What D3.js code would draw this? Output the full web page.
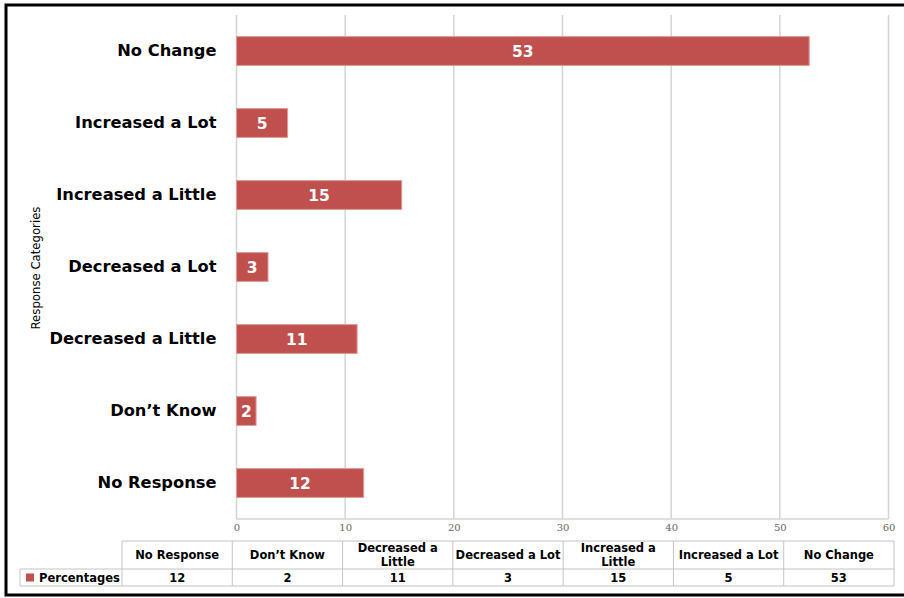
<!DOCTYPE html>
<html><head><meta charset="utf-8">
<script src="https://cdn.jsdelivr.net/npm/d3@7"></script>
<style>
html,body{margin:0;padding:0;background:#fff;}
svg{display:block;}
</style></head>
<body>
<svg id="chart" width="904" height="598"></svg>
<script>
// Data (bottom-to-top order, same as data table order)
const categories = ["No Response", "Don\u2019t Know", "Decreased a Little", "Decreased a Lot", "Increased a Little", "Increased a Lot", "No Change"];
const percentages = [11.7, 1.8, 11.1, 2.9, 15.2, 4.7, 52.7];
const labels = [12, 2, 11, 3, 15, 5, 53];
const xTicks = [0, 10, 20, 30, 40, 50, 60];
const seriesName = "Percentages";
const axisTitle = "Response Categories";

const svg = d3.select("#chart");
const red = "#C0504D";
const grid = "#d4d4d4";
const boldFont = "'DejaVu Sans', Verdana, sans-serif";

// outer border
svg.append("rect").attr("x", 6).attr("y", 5).attr("width", 910).attr("height", 590)
  .attr("fill", "none").attr("stroke", "#000").attr("stroke-width", 3);

const plot = {left: 236.5, right: 888.5, top: 15, bottom: 519};
const x = d3.scaleLinear().domain([0, 60]).range([plot.left, plot.right]);
const y = d3.scaleBand().domain(categories.slice().reverse()).range([plot.top, plot.bottom]).paddingInner(0.6).paddingOuter(0.3);

// gridlines
svg.append("g").selectAll("line").data(xTicks).join("line")
  .attr("x1", d => x(d)).attr("x2", d => x(d))
  .attr("y1", plot.top).attr("y2", plot.bottom)
  .attr("stroke", grid).attr("stroke-width", 1.5);
svg.append("line").attr("x1", plot.left).attr("x2", plot.right)
  .attr("y1", plot.bottom).attr("y2", plot.bottom).attr("stroke", grid).attr("stroke-width", 1.5);

// axis tick labels
const xAxis = d3.axisBottom(x).tickValues(xTicks).tickSize(0).tickPadding(5);
const gx = svg.append("g").attr("transform", `translate(0,${plot.bottom})`).call(xAxis);
gx.select(".domain").remove();
gx.selectAll("text").attr("fill", "#666").attr("font-size", 10)
  .attr("font-family", "'DejaVu Serif', Georgia, serif");

// bars
const bars = svg.append("g");
bars.selectAll("rect").data(categories).join("rect")
  .attr("x", x(0)).attr("y", d => y(d))
  .attr("width", (d, i) => x(percentages[i]) - x(0))
  .attr("height", y.bandwidth())
  .attr("fill", red).attr("stroke", "#e29896").attr("stroke-width", 1);

bars.selectAll("text").data(categories).join("text")
  .attr("x", (d, i) => (x(0) + x(percentages[i])) / 2)
  .attr("y", d => y(d) + y.bandwidth() / 2)
  .attr("dy", "0.38em").attr("text-anchor", "middle")
  .attr("fill", "#fff").attr("font-weight", "bold").attr("font-size", 15.5)
  .attr("font-family", boldFont)
  .text((d, i) => labels[i]);

// category labels
const yAxis = d3.axisLeft(y).tickSize(0).tickPadding(20);
const gy = svg.append("g").attr("transform", `translate(${plot.left},0)`).call(yAxis);
gy.select(".domain").remove();
gy.selectAll("text").attr("fill", "#000").attr("font-size", 16.3).attr("font-weight", "bold")
  .attr("font-family", boldFont);

// axis title
svg.append("text").attr("transform", "translate(40,268) rotate(-90)")
  .attr("text-anchor", "middle").attr("font-size", 13)
  .attr("font-family", "'Liberation Sans Narrow', 'DejaVu Sans Condensed', sans-serif")
  .attr("fill", "#000").text(axisTitle);

// data table
const tbl = {left: 122, right: 894, top: 541, mid: 569, bottom: 586, legendLeft: 20};
const cx = d3.scaleBand().domain(categories).range([tbl.left, tbl.right]);
const tg = svg.append("g");
const tline = (x1, y1, x2, y2) => tg.append("line").attr("x1", x1).attr("y1", y1).attr("x2", x2).attr("y2", y2)
  .attr("stroke", "#c4c4c4").attr("stroke-width", 1);
tline(tbl.left, tbl.top, tbl.right, tbl.top);
tline(tbl.legendLeft, tbl.mid, tbl.right, tbl.mid);
tline(tbl.legendLeft, tbl.bottom, tbl.right, tbl.bottom);
tline(tbl.legendLeft, tbl.mid, tbl.legendLeft, tbl.bottom);
categories.forEach(c => tline(cx(c), tbl.top, cx(c), tbl.bottom));
tline(tbl.right, tbl.top, tbl.right, tbl.bottom);

const wrap = {"Decreased a Little": ["Decreased a", "Little"], "Increased a Little": ["Increased a", "Little"]};
categories.forEach((c, i) => {
  const cxm = cx(c) + cx.bandwidth() / 2;
  const lines = wrap[c] || [c];
  const midY = (tbl.top + tbl.mid) / 2;
  lines.forEach((l, j) => {
    tg.append("text").attr("x", cxm).attr("y", midY + (j - (lines.length - 1) / 2) * 14)
      .attr("dy", "0.36em").attr("text-anchor", "middle")
      .attr("font-size", 11.5).attr("font-weight", "bold").attr("font-family", boldFont)
      .attr("fill", "#000").text(l);
  });
  tg.append("text").attr("x", cxm).attr("y", (tbl.mid + tbl.bottom) / 2)
    .attr("dy", "0.36em").attr("text-anchor", "middle")
    .attr("font-size", 11.5).attr("font-weight", "bold").attr("font-family", boldFont)
    .attr("fill", "#000").text(labels[i]);
});
// legend key
tg.append("rect").attr("x", 26).attr("y", 573.5).attr("width", 8).attr("height", 8).attr("fill", red);
tg.append("text").attr("x", 39).attr("y", (tbl.mid + tbl.bottom) / 2).attr("dy", "0.36em")
  .attr("font-size", 11.5).attr("font-weight", "bold").attr("font-family", boldFont)
  .attr("fill", "#000").text(seriesName);
</script>
</body></html>
